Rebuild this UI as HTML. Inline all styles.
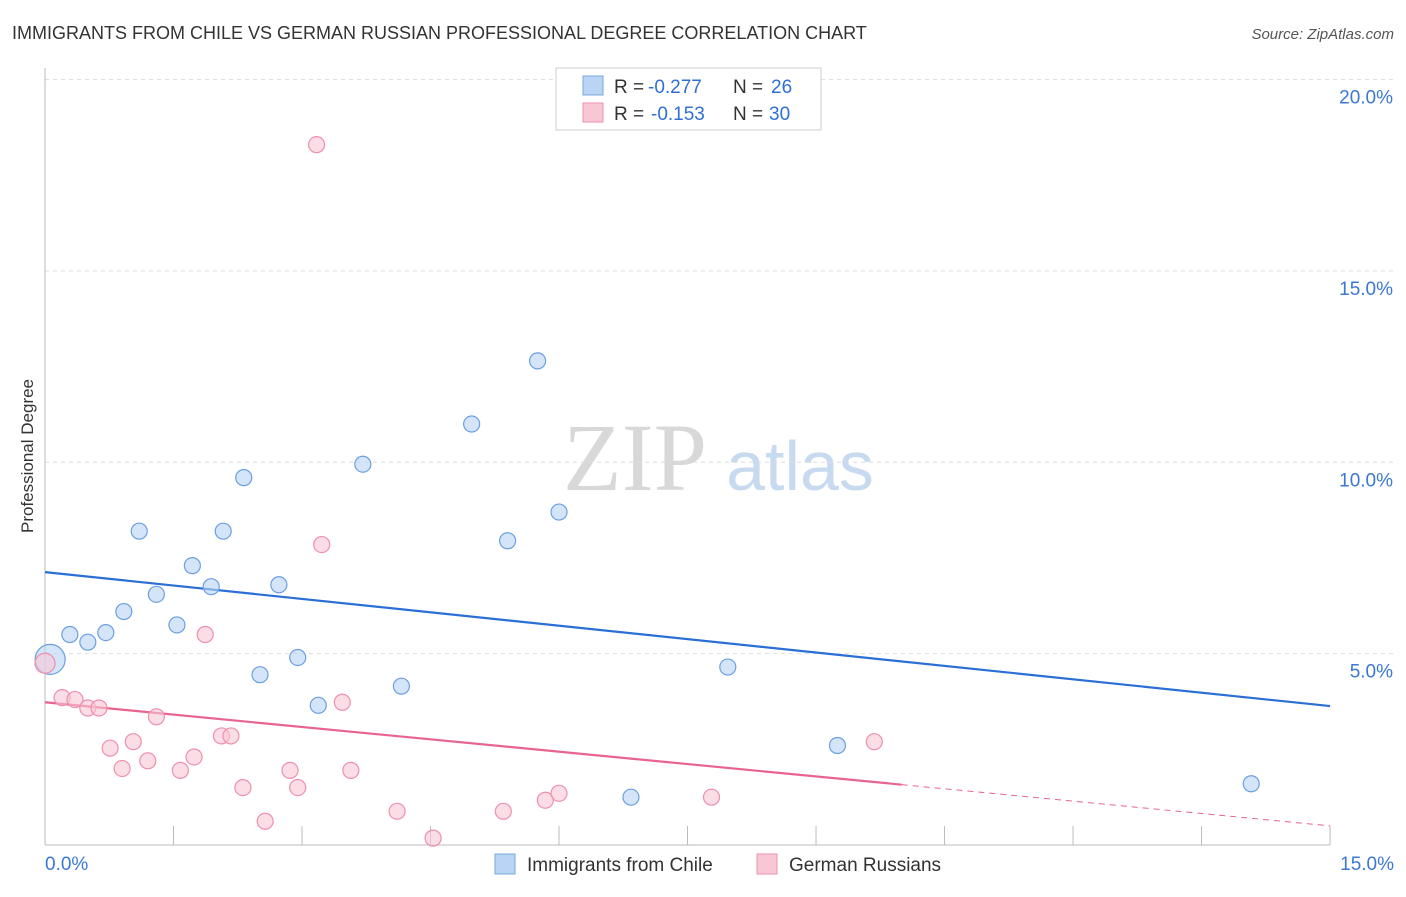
<!DOCTYPE html>
<html><head><meta charset="utf-8"><style>
body{margin:0;background:#fff;font-family:"Liberation Sans",sans-serif;}
</style></head><body>
<svg width="1406" height="892" xmlns="http://www.w3.org/2000/svg" font-family="Liberation Sans, sans-serif">
<text x="12" y="39" font-size="18" fill="#333">IMMIGRANTS FROM CHILE VS GERMAN RUSSIAN PROFESSIONAL DEGREE CORRELATION CHART</text>
<text x="1394" y="39" font-size="15" fill="#555" font-style="italic" text-anchor="end">Source: ZipAtlas.com</text>
<text transform="translate(33,456) rotate(-90)" font-size="17" fill="#333" text-anchor="middle">Professional Degree</text>
<g>
<text x="635" y="490" font-size="96" fill="#d8d8d8" text-anchor="middle" font-family="Liberation Serif, serif">ZIP</text>
<text x="800" y="490" font-size="70" fill="#c8daf0" text-anchor="middle">atlas</text>
</g>
<g id="grid"></g><g id="axes"></g><g id="lines"></g><g id="pts"></g>
<g>
<rect x="556" y="68" width="265" height="62" fill="#fff" stroke="#ccc"/>
<rect x="583" y="76" width="20" height="19" fill="#b9d4f5" stroke="#7aa7e0"/>
<text x="614" y="93" font-size="19" fill="#333">R =</text>
<text x="648" y="93" font-size="19" fill="#2f6fd6">-0.277</text>
<text x="733" y="93" font-size="19" fill="#333">N =</text>
<text x="771" y="93" font-size="19" fill="#2f6fd6">26</text>
<rect x="583" y="103" width="20" height="19" fill="#f9c6d6" stroke="#ee91ae"/>
<text x="614" y="120" font-size="19" fill="#333">R =</text>
<text x="651" y="120" font-size="19" fill="#2f6fd6">-0.153</text>
<text x="733" y="120" font-size="19" fill="#333">N =</text>
<text x="769" y="120" font-size="19" fill="#2f6fd6">30</text>
</g>
<g>
<rect x="495" y="854" width="20" height="20" fill="#b9d4f5" stroke="#7aa7e0"/>
<text x="527" y="871" font-size="19" fill="#333">Immigrants from Chile</text>
<rect x="757" y="854" width="20" height="20" fill="#f9c6d6" stroke="#ee91ae"/>
<text x="789" y="871" font-size="19" fill="#333">German Russians</text>
</g>
</svg>
<script>
const blueX=[0.06,0.29,0.5,0.71,0.92,1.1,1.3,1.54,1.72,1.94,2.08,2.32,2.51,2.73,2.95,3.19,3.71,4.16,4.98,5.4,5.75,6.0,6.84,7.97,9.25,14.08];
const blueY=[4.85,5.5,5.3,5.55,6.1,8.2,6.55,5.75,7.3,6.75,8.2,9.6,4.45,6.8,4.9,3.65,9.95,4.15,11.0,7.95,12.65,8.7,1.25,4.65,2.6,1.6];
const pinkX=[0.0,0.2,0.35,0.5,0.63,0.76,0.9,1.03,1.2,1.3,1.58,1.74,1.87,2.06,2.17,2.31,2.57,2.86,2.95,3.17,3.23,3.47,3.57,4.11,4.53,5.35,5.84,6.0,7.78,9.68];
const pinkY=[4.75,3.85,3.8,3.58,3.58,2.53,2.0,2.7,2.2,3.35,1.95,2.3,5.5,2.85,2.85,1.5,0.62,1.95,1.5,18.3,7.85,3.73,1.95,0.88,0.18,0.88,1.17,1.35,1.25,2.7];
const yTicks=[5,10,15,20];
const yTickLabels=["5.0%","10.0%","15.0%","20.0%"];
const xTicks=[0,1.5,3,4.5,6,7.5,9,10.5,12,13.5,15];
const blueTrend=[7.13,3.63];
const pinkTrend=[3.73,0.5];
const pinkSolidEnd=10.0;
const NS="http://www.w3.org/2000/svg";
const sx=v=>45+v*85.67, sy=v=>845-v*38.27;
function mk(p,t,a){const e=document.createElementNS(NS,t);for(const k in a)e.setAttribute(k,a[k]);document.getElementById(p).appendChild(e);return e;}
yTicks.forEach((t,i)=>{
 const l=mk('grid','line',{x1:45,x2:1394,y1:sy(t),y2:sy(t),stroke:'#ddd','stroke-dasharray':'4,4'});
 
 
 const tx=mk('grid','text',{x:1393,y:sy(t)+24,'font-size':19,fill:'#3a78d4','text-anchor':'end'});
 tx.textContent=yTickLabels[i];
 
 
});
const ya=mk('axes','line',{x1:45,x2:45,y1:68,y2:845,stroke:'#bbb'});


const xa=mk('axes','line',{x1:45,x2:1330,y1:845,y2:845,stroke:'#bbb'});


xTicks.forEach(t=>{const l=mk('axes','line',{x1:sx(t),x2:sx(t),y1:826,y2:845,stroke:'#bbb'});
 
 });
[[0,'0.0%','start',45],[15,'15.0%','end',1394]].forEach(a=>{const t=mk('axes','text',{x:a[3],y:870,'font-size':19,fill:'#3a78d4','text-anchor':a[2]});t.textContent=a[1];
 
 });
const bl=mk('lines','line',{x1:sx(0),x2:sx(15),y1:sy(blueTrend[0]),y2:sy(blueTrend[1]),stroke:'#2a6fd6','stroke-width':2.2});


const pm=pinkTrend[0]+(pinkTrend[1]-pinkTrend[0])*pinkSolidEnd/15;
const pl=mk('lines','line',{x1:sx(0),x2:sx(pinkSolidEnd),y1:sy(pinkTrend[0]),y2:sy(pm),stroke:'#e8638f','stroke-width':2.2});


const pd=mk('lines','line',{x1:sx(pinkSolidEnd),x2:sx(15),y1:sy(pm),y2:sy(pinkTrend[1]),stroke:'#e8638f','stroke-width':1,'stroke-dasharray':'6,5'});


blueX.forEach((x,i)=>{const c=mk('pts','circle',{cx:sx(x),cy:sy(blueY[i]),r:i==0?15:8,fill:'rgba(185,212,245,0.6)',stroke:'#6b9fe0','stroke-width':1.2});
 
 });
pinkX.forEach((x,i)=>{const c=mk('pts','circle',{cx:sx(x),cy:sy(pinkY[i]),r:i==0?10:8,fill:'rgba(249,198,214,0.6)',stroke:'#ee8fae','stroke-width':1.2});
 
 });
</script>
</body></html>
